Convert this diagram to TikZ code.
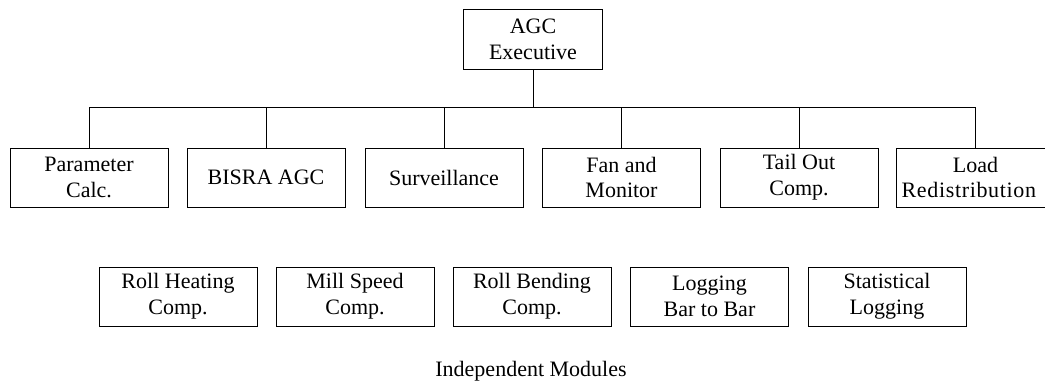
\documentclass[tikz,border=0pt]{standalone}
\usepackage{fontspec}
\setmainfont{Liberation Serif}
\usetikzlibrary{calc}

\begin{document}
\begin{tikzpicture}[x=0.75pt,y=-0.75pt,line width=0.6pt,
        module/.style={draw, align=center, inner sep=0pt, minimum width=118.5pt, minimum height=44.25pt, font=\rmfamily\fontsize{16.5}{19.3}\selectfont},
        execbox/.style={module, minimum width=104.25pt, minimum height=45pt}]
            \useasboundingbox (0,0) rectangle (1045,385);
            \node (exec) at (533,39) [execbox] {AGC\\Executive};
            \node (param) at (89,177.5) [module] {Parameter\\Calc.};
            \node (bisra) at (266,177.5) [module] {BISRA AGC};
            \node (surv) at (444,177.5) [module] {Surveillance};
            \node (fan) at (621.5,177.5) [module] {Fan and\\Monitor};
            \node (tail) at (799,177.5) [module] {Tail Out\\Comp.};
            \node (load) at (975.5,177.5) [module] {Load\\\hspace*{-10pt}{\addfontfeature{LetterSpace=3}Redistribution}};
            \node (rollheat) at (178,296.5) [module] {Roll Heating\\Comp.};
            \node (millspeed) at (355,296.5) [module] {Mill Speed\\Comp.};
            \node (rollbend) at (532,296.5) [module] {Roll Bending\\Comp.};
            \node (logbar) at (709.5,296.5) [module] {Logging\\Bar to Bar};
            \node (statlog) at (887,296.5) [module] {Statistical\\Logging};
            \node (indep) at (531,371) [font=\rmfamily\fontsize{16.5}{19.3}\selectfont] {Independent Modules};
            % bus from the executive to the modules
            \coordinate (bus) at (533,107.5);
            \draw (exec.south) -- (bus);
            \draw (param.north) |- (bus) -| (load.north);
            \foreach \m in {bisra,surv,fan,tail}
                \draw (\m.north) -- (\m.north |- bus);
    \end{tikzpicture}
\end{document}
